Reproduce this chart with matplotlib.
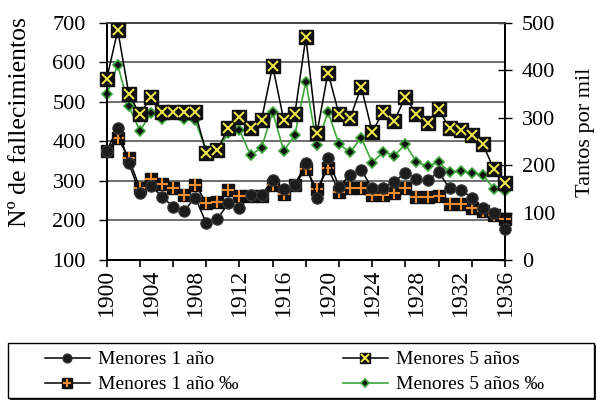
import matplotlib
matplotlib.use("Agg")
import matplotlib.pyplot as plt
from matplotlib.legend_handler import HandlerTuple
from matplotlib.patches import Rectangle

plt.rcParams['font.family'] = ['Liberation Serif', 'DejaVu Serif']

years = list(range(1900, 1937))
menores1 = [376, 434, 344, 269, 288, 260, 235, 224, 258, 193, 204, 243, 231, 265, 265,
            302, 280, 290, 344, 258, 357, 285, 315, 328, 281, 283, 298, 321, 305, 302,
            322, 281, 277, 258, 231, 218, 178]
menores5 = [558, 681, 520, 468, 513, 475, 473, 475, 473, 371, 378, 435, 461, 433, 455,
            591, 454, 468, 663, 420, 574, 468, 458, 538, 424, 475, 452, 513, 468, 447,
            481, 433, 429, 416, 393, 329, 295]
tasa1 = [230, 258, 214, 151, 171, 161, 151, 136, 159, 121, 123, 147, 135, 135, 135,
         158, 140, 158, 192, 149, 193, 144, 151, 151, 137, 137, 142, 151, 133, 133,
         134, 118, 118, 109, 104, 95, 86]
tasa5 = [349, 411, 324, 272, 309, 298, 310, 298, 294, 230, 231, 268, 274, 221, 237,
         312, 230, 263, 376, 242, 312, 244, 227, 258, 205, 228, 220, 244, 206, 198,
         206, 185, 187, 183, 179, 150, 145]
label_years = list(range(1900, 1937, 4))
tick_years = list(range(1900, 1937, 3))
labels = ["Menores 1 año", "Menores 1 año ‰", "Menores 5 años", "Menores 5 años ‰"]

W, H = 598, 401
fig = plt.figure(figsize=(W/100, H/100), dpi=100)
ax = fig.add_axes([106.7/W, (H-260)/H, 398.3/W, 237.3/H])
ax2 = ax.twinx()

GREEN = '#3da53a'
YEL = '#f2e84a'
ORG = '#f08c2e'

# left axis series
l1, = ax.plot(years, menores1, color='black', lw=1.1, marker='o', ms=8.2,
              mfc='#1c1c1c', mec='#3a3a3a', mew=0.8, zorder=3, clip_on=False)
l5, = ax.plot(years, menores5, color='black', lw=1.1, marker='s', ms=9.5,
              mfc='#111111', mec='#111111', zorder=6, clip_on=False)
l5x, = ax.plot(years, menores5, ls='none', marker='x', ms=7, mec=YEL, mew=1.4,
               zorder=7, clip_on=False)

# right axis series
r1, = ax2.plot(years, tasa1, color='black', lw=1.1, marker='s', ms=8.8,
               mfc='#111111', mec='#111111', zorder=3, clip_on=False)
r1p, = ax2.plot(years, tasa1, ls='none', marker='+', ms=8, mec=ORG, mew=1.5,
                zorder=4, clip_on=False)
r5, = ax2.plot(years, tasa5, color=GREEN, lw=1.2, marker='D', ms=5.2,
               mfc='#111111', mec=GREEN, mew=1.2, zorder=5, clip_on=False)

ax.set_zorder(2)
ax2.set_zorder(1)
ax.patch.set_visible(False)

ax.set_xlim(1900, 1936)
ax.set_ylim(100, 700)
ax2.set_ylim(0, 500)
ax.set_yticks(range(100, 701, 100))
ax2.set_yticks(range(0, 501, 100))

for y in range(200, 701, 100):
    ax2.axhline(y=(y-100)/600*500, color='#555555', lw=1.2, zorder=0)

ax.xaxis.remove_overlapping_locs = False
ax.set_xticks(tick_years)
ax.set_xticklabels([])
ax.set_xticks(label_years, minor=True)
ax.set_xticklabels([str(y) for y in label_years], minor=True, rotation=90, fontsize=17)
ax.tick_params(axis='x', which='major', direction='out', length=5, width=1.2)
ax.tick_params(axis='x', which='minor', length=0, pad=6.5)
ax.tick_params(axis='y', direction='out', length=6, width=1.0, labelsize=16, pad=9)
ax2.tick_params(axis='y', direction='inout', length=10, width=1.0, labelsize=16, pad=7)
ax2.tick_params(axis='x', which='both', length=0)

for a in (ax, ax2):
    for s in ('left', 'right', 'bottom'):
        a.spines[s].set_linewidth(1.4)
        a.spines[s].set_color('black')
    a.spines['top'].set_color('#444444')
    a.spines['top'].set_linewidth(1.2)

ax.set_ylabel("Nº de fallecimientos", fontsize=18.5)
ax.yaxis.set_label_coords((31-106.7)/398.3, 0.58)
ax2.set_ylabel("Tantos por mil", fontsize=16)
ax2.yaxis.set_label_coords((576-106.7)/398.3, 0.54)

# legend frame with shadow
fig.patches.append(Rectangle((10/W, 1/H), 586/W, 55/H, transform=fig.transFigure,
                             facecolor='#222222', edgecolor='none', zorder=0))
fig.patches.append(Rectangle((8/W, 3/H), 586/W, 55/H, transform=fig.transFigure,
                             facecolor='white', edgecolor='black', lw=1.0, zorder=1))

leg = fig.legend([l1, (r1, r1p), (l5, l5x), r5], labels,
                 handler_map={tuple: HandlerTuple(ndivide=1, pad=0)},
                 loc='center left', bbox_to_anchor=(45/W, (H-372)/H),
                 ncol=2, fontsize=14, frameon=False, markerscale=0.8,
                 borderaxespad=0, borderpad=0, handlelength=2.3, handletextpad=0.4,
                 labelspacing=0.38, columnspacing=5.4)
leg.set_zorder(3)

fig.savefig("out.png", dpi=100)
